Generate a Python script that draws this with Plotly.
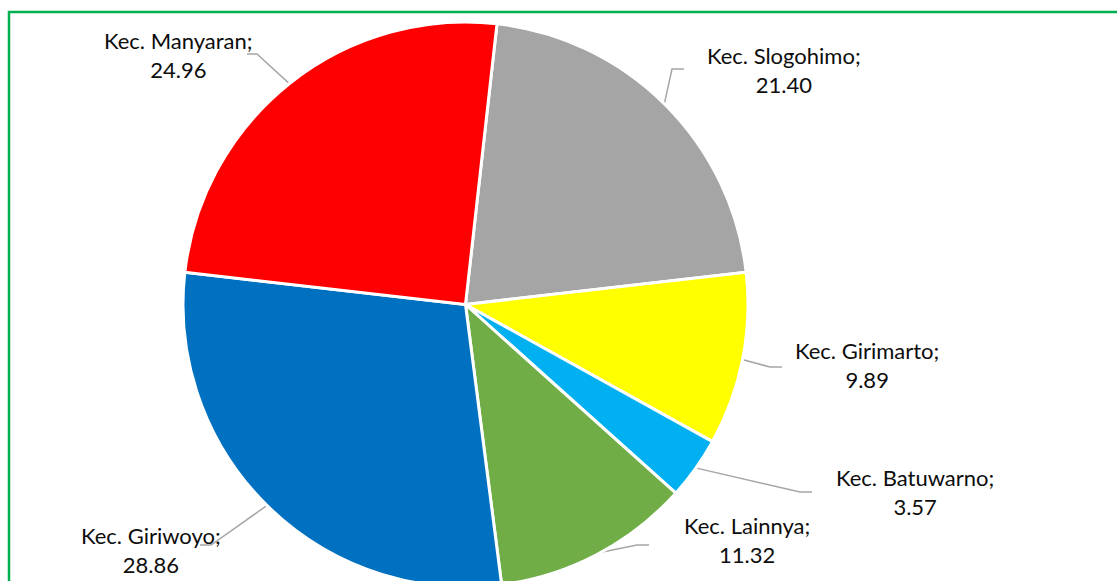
import math
import plotly.graph_objects as go

# ---- data ----
categories = ["Kec. Slogohimo", "Kec. Girimarto", "Kec. Batuwarno",
              "Kec. Lainnya", "Kec. Giriwoyo", "Kec. Manyaran"]
values = [21.40, 9.89, 3.57, 11.32, 28.86, 24.96]
value_labels = ["21.40", "9.89", "3.57", "11.32", "28.86", "24.96"]
colors = ["#A5A5A5", "#FFFF00", "#00B0F0", "#70AD47", "#0070C0", "#FF0000"]

# ---- layout (pixel geometry) ----
W, H = 1117, 600
CX, CY, R = 465.5, 304.5, 282.5
ROT = 6.4

label_pos = [(784, 70), (867, 365), (915, 492), (747, 540), (151, 550), (178, 55)]
leader_elbow = [(672, 69), (770, 367), (800, 492), (637, 545), (211, 545), (257, 54)]
leader_end = [(684, 69), (782, 367), (812, 492), (649, 545), (200, 545), (247, 54)]

fig = go.Figure()

fig.add_trace(go.Pie(
    labels=categories, values=values, sort=False, direction="clockwise",
    rotation=ROT, textinfo="none", hoverinfo="label+value", showlegend=False,
    marker=dict(colors=colors, line=dict(color="white", width=3)),
    domain=dict(x=[(CX - R) / W, (CX + R) / W],
                y=[1 - (CY + R) / H, 1 - (CY - R) / H]),
))

total = sum(values)
cum = 0.0
for i, v in enumerate(values):
    mid = math.radians(ROT + (cum + v / 2) / total * 360)
    cum += v
    sx = CX + R * 0.995 * math.sin(mid)
    sy = CY - R * 0.995 * math.cos(mid)
    ex, ey = leader_elbow[i]
    tx, ty = leader_end[i]
    fig.add_trace(go.Scatter(
        x=[sx, ex, tx], y=[sy, ey, ty], mode="lines",
        line=dict(color="#A6A6A6", width=1.5), hoverinfo="skip", showlegend=False,
    ))
    lx, ly = label_pos[i]
    fig.add_annotation(
        x=lx, y=ly, xref="x", yref="y", showarrow=False, align="center",
        text=f"{categories[i]};<br>{value_labels[i]}",
        font=dict(family="Lato", size=22, color="#0d0d0d"),
    )

fig.add_shape(type="rect", xref="x", yref="y", x0=9, y0=12, x1=W + 20, y1=H + 20,
              line=dict(color="#00B050", width=2.5), layer="above")

fig.update_layout(
    width=W, height=H, margin=dict(l=0, r=0, t=0, b=0),
    paper_bgcolor="white", plot_bgcolor="rgba(0,0,0,0)",
    xaxis=dict(range=[0, W], visible=False, fixedrange=True),
    yaxis=dict(range=[H, 0], visible=False, fixedrange=True),
    showlegend=False,
)

fig.write_html(
    "out.html",
    config={"displayModeBar": False},
    post_script="document.body.style.margin='0';document.body.style.overflow='hidden';"
                "document.documentElement.style.overflow='hidden';",
)
